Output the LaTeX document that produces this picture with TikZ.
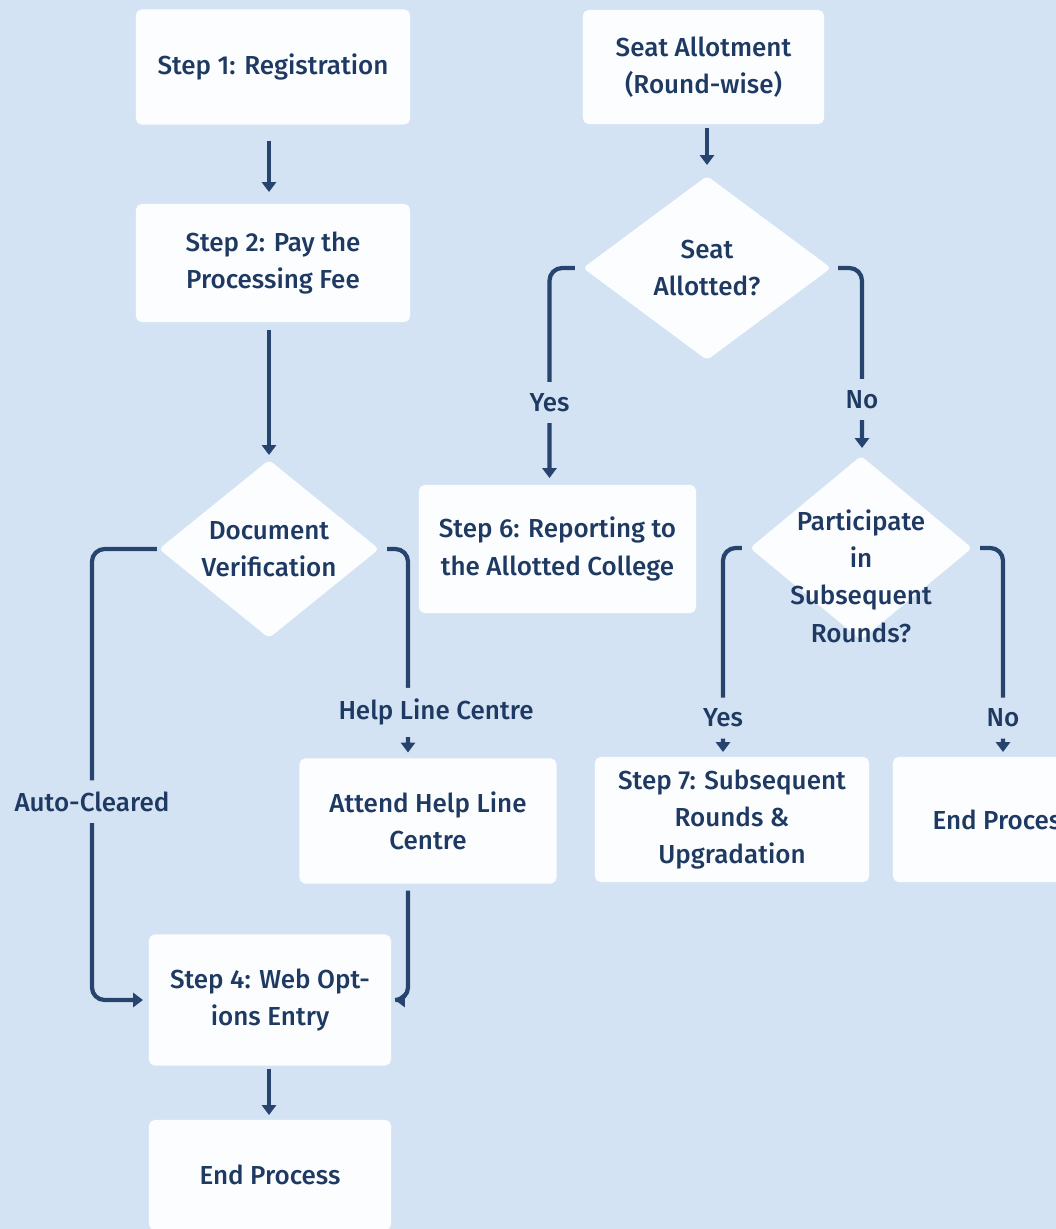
\documentclass[tikz,border=0pt]{standalone}
\usepackage{fontspec}
\setmainfont{Fira Sans}[UprightFont=* Medium]
\usetikzlibrary{arrows.meta,shapes.geometric}
\definecolor{bg}{RGB}{212,227,243}
\definecolor{ink}{RGB}{30,58,98}
\definecolor{navy}{RGB}{38,68,110}
\definecolor{card}{RGB}{252,253,255}
\tikzset{
  base/.style={inner sep=0pt, outer sep=0pt, font=\fontsize{18.5}{26.5}\selectfont, text=ink},
  card/.style={base, fill=card, rounded corners=4pt, align=center},
  decision/.style={base, diamond, fill=card, rounded corners=3pt},
  flow/.style={draw=navy, line width=3pt, rounded corners=9pt, -{Triangle[length=7pt,width=10pt]}},
  tag/.style={base, fill=bg, inner xsep=2pt, inner ysep=0.28cm},
}

\begin{document}
\begin{tikzpicture}[x=0.025cm, y=-0.025cm]
    \path [use as bounding box, fill=bg] (0,0) rectangle (1056,1229);
    \clip (0,0) rectangle (1056,1229);

    % left column
    \node [card, minimum width=6.85cm, minimum height=2.875cm] (reg) at (273,67) {Step 1: Registration};
    \node [card, minimum width=6.85cm, minimum height=2.95cm] (fee) at (273,263) {Step 2: Pay the\\Processing Fee};
    \node [decision, minimum width=5.5cm, minimum height=4.45cm,
           label={[base,align=center]center:Document\\Verification}] (dv) at (269,549) {};
    \node [card, minimum width=6.425cm, minimum height=3.125cm] (help) at (428,821) {Attend Help Line\\Centre};
    \node [card, minimum width=6.05cm, minimum height=3.275cm] (web) at (270,1000) {Step 4: Web Opt-\\ions Entry};
    \node [card, minimum width=6.05cm, minimum height=2.75cm] (fin) at (270,1175) {End Process};

    % right column
    \node [card, minimum width=6.025cm, minimum height=2.85cm] (seat) at (703.5,67) {Seat Allotment\\(Round-wise)};
    \node [decision, minimum width=6.2cm, minimum height=4.6cm,
           label={[base,align=center]center:Seat\\Allotted?}] (sa) at (707,268) {};
    \node [card, minimum width=6.925cm, minimum height=3.2cm] (rep) at (557.5,549) {Step 6: Reporting to\\the Allotted College};
    \node [decision, minimum width=5.55cm, minimum height=4.6cm,
           label={[base,align=center,yshift=-0.7cm]center:Participate\\in\\Subsequent\\Rounds?}] (part) at (861,548) {};
    \node [card, minimum width=6.85cm, minimum height=3.125cm] (sub) at (732,819.5) {Step 7: Subsequent\\Rounds \&\\Upgradation};
    \node [card, minimum width=5.5cm, minimum height=3.125cm] (stop) at (1003,819.5) {End Process};

    % connectors
    \draw [flow, shorten <=0.4cm, shorten >=0.3cm] (reg.south -| dv.north) -- (fee.north -| dv.north);
    \draw [flow, shorten <=0.2cm, shorten >=0.125cm] (fee.south -| dv.north) -- (dv.north);
    \draw [flow, shorten <=0.05cm, shorten >=0.15cm] (dv.west) -| node [tag, pos=0.78] {Auto-Cleared} ([xshift=-1.425cm]web.west) -- (web.west);
    \draw [flow, shorten <=0.2cm, shorten >=0.15cm] (dv.east) -| node [tag, pos=0.89, xshift=0.7cm] {Help Line Centre} ([xshift=-0.5cm]help.north);
    \draw [flow, shorten <=0.175cm, shorten >=0.1cm] ([xshift=-0.5cm]help.south) |- (web.east);
    \draw [flow, shorten <=0.075cm, shorten >=0.125cm] (web.south -| dv.north) -- (fin.north -| dv.north);

    \draw [flow, shorten <=0.1cm, shorten >=0.275cm] (seat.south -| sa.north) -- (sa.north);
    \draw [flow, shorten <=0.2cm, shorten >=0.175cm] (sa.west) -| node [tag, pos=0.81] {Yes} ([xshift=-0.2cm]rep.north);
    \draw [flow, shorten <=0.175cm, shorten >=0.2cm] (sa.east) -| node [tag, pos=0.85] {No} ([xshift=0.025cm]part.north);
    \draw [flow, shorten <=0.2cm, shorten >=0.125cm] (part.west) -| node [tag, pos=0.907] {Yes} ([xshift=-0.225cm]sub.north);
    \draw [flow, shorten <=0.2cm, shorten >=0.125cm] (part.east) -| node [tag, pos=0.907] {No} (stop.north);
\end{tikzpicture}
\end{document}
